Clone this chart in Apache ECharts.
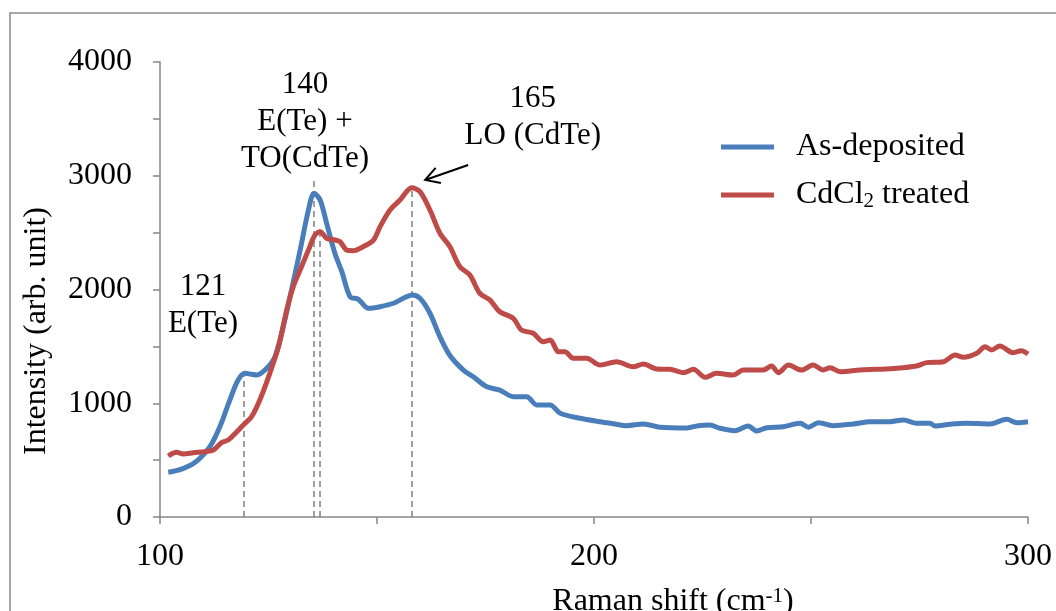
<!DOCTYPE html>
<html><head><meta charset="utf-8">
<script src="https://cdn.jsdelivr.net/npm/echarts@6/dist/echarts.min.js"></script>
<style>html,body{margin:0;padding:0;background:#fff}#c{width:1056px;height:611px}</style>
</head><body><div id="c"></div>
<script>
// ---- data ----
const shiftBlue = [101.9,103.5,105.4,107.5,109.2,111.5,113.8,116.1,118.0,119.6,121.0,122.3,124.6,126.5,128.4,130.3,132.3,134.2,135.5,136.9,138.4,140.3,141.9,143.8,145.7,148.0,150.7,153.8,156.1,158.1,159.9,162.2,164.5,166.8,169.9,172.2,175.3,178.3,181.4,184.5,186.8,189.9,192.2,196.8,201.4,204.5,207.5,211.4,215.2,221.5,224.0,226.7,229.0,232.5,235.5,237.5,239.8,243.6,247.5,249.4,251.7,255.1,259.8,263.6,268.2,271.3,274.3,277.4,278.6,282.0,285.9,291.2,295.1,297.4,300.0];
const asDeposited = [393,405,428,465,516,618,794,1029,1204,1263,1255,1248,1307,1409,1673,1996,2347,2699,2846,2787,2582,2318,2157,1937,1914,1835,1849,1879,1923,1952,1923,1791,1585,1420,1292,1233,1145,1116,1058,1058,985,985,912,868,838,820,803,818,789,783,803,809,780,759,800,756,785,794,824,789,829,803,818,838,838,853,824,824,800,815,824,818,859,829,838];
const shiftRed = [101.9,103.8,105.4,107.7,110.3,112.3,114.2,115.7,117.7,119.2,121.1,123.0,125.3,127.3,129.2,130.7,132.6,134.2,135.7,136.9,138.4,140.3,141.5,143.0,144.5,146.8,149.2,150.7,153.0,155.3,158.0,159.9,162.2,164.5,166.8,169.1,171.4,173.7,176.0,178.3,181.4,183.3,186.0,188.3,189.9,191.8,193.3,195.2,198.3,201.4,205.2,209.0,211.4,214.4,217.5,220.6,222.9,225.6,228.2,232.1,234.4,239.0,240.9,242.5,244.8,247.8,250.5,252.8,254.4,256.7,261.3,265.1,269.7,274.3,276.6,280.5,283.2,285.1,288.2,290.1,291.6,293.5,296.6,298.5,300.0];
const cdcl2Treated = [536,569,554,565,574,589,654,677,750,809,882,1029,1263,1497,1820,2025,2200,2347,2479,2508,2450,2435,2420,2347,2341,2376,2435,2552,2699,2787,2895,2860,2699,2494,2376,2200,2127,1966,1908,1805,1746,1644,1615,1541,1556,1453,1453,1395,1395,1336,1365,1321,1345,1301,1298,1269,1298,1228,1263,1248,1292,1292,1327,1269,1336,1292,1336,1292,1313,1277,1292,1298,1307,1327,1357,1365,1424,1404,1439,1497,1468,1503,1444,1462,1433];
const seriesNames = ['As-deposited', 'CdCl2 treated'];
const xLabelTicks = [100, 200, 300];
const yLabelTicks = [0, 1000, 2000, 3000, 4000];
// peak guide lines: position (cm-1) and top intensity
const peakX = [119.35, 135.5, 136.9, 158.1];
const peakTop = [1266, 2960, 2505, 2892];
// peak annotations: data position and text
const annotX = [109.9, 133.4, 185.9];
const annotY = [1860, 3470, 3515];
const annotText = ['121\nE(Te)', '140\nE(Te) +\nTO(CdTe)', '165\nLO (CdTe)'];
// arrow from label to LO peak (data coords)
const arrowFrom = [171.0, 3094];
const arrowTo = [161.1, 2963];

const FONT = "'Liberation Serif','Times New Roman',serif";
const AX = '#868686';
const BLUE = '#4a7ebb', RED = '#be4b48';
const zip = (a, b) => a.map((v, i) => [v, b[i]]);

const chart = echarts.init(document.getElementById('c'), null, {renderer: 'canvas'});
const option = {
  animation: false,
  backgroundColor: '#ffffff',
  grid: {left: 160, right: 28, top: 62, bottom: 94, containLabel: false},
  xAxis: {
    type: 'value', min: 100, max: 300, interval: 50,
    axisLine: {lineStyle: {color: AX, width: 1.5}},
    axisTick: {show: true, length: 7, lineStyle: {color: AX, width: 1.5}},
    axisLabel: {margin: 24, fontFamily: FONT, fontSize: 32, color: '#000',
      formatter: v => xLabelTicks.includes(v) ? String(v) : ''},
    splitLine: {show: false}
  },
  yAxis: {
    type: 'value', min: 0, max: 4000, interval: 500,
    axisLine: {show: true, lineStyle: {color: AX, width: 1.5}},
    axisTick: {show: true, length: 7, lineStyle: {color: AX, width: 1.5}},
    axisLabel: {margin: 28, fontFamily: FONT, fontSize: 32, color: '#000',
      formatter: v => yLabelTicks.includes(v) ? String(v) : ''},
    splitLine: {show: false}
  },
  legend: {
    orient: 'vertical', left: 716, top: 125, itemWidth: 53, itemHeight: 5, itemGap: 14,
    icon: 'rect',
    textStyle: {fontFamily: FONT, fontSize: 32, color: '#000', lineHeight: 34, padding: [0, 0, 0, 17],
      rich: {sub: {fontFamily: FONT, fontSize: 21, color: '#000', verticalAlign: 'bottom', lineHeight: 34}}},
    formatter: n => n === 'CdCl2 treated' ? 'CdCl{sub|2} treated' : n,
    data: seriesNames
  },
  series: [
    {name: seriesNames[0], type: 'line', data: zip(shiftBlue, asDeposited), showSymbol: false, symbol: 'none',
      smooth: 0.3, lineStyle: {color: BLUE, width: 5}, itemStyle: {color: BLUE}, z: 3,
      markLine: {silent: true, symbol: ['none', 'none'], label: {show: false}, z: 1,
        lineStyle: {color: '#7f7f7f', type: [6, 4], width: 1.5},
        data: peakX.map((x, i) => [{coord: [x, 0]}, {coord: [x, peakTop[i]]}])}},
    {name: seriesNames[1], type: 'line', data: zip(shiftRed, cdcl2Treated), showSymbol: false, symbol: 'none',
      smooth: 0.3, lineStyle: {color: RED, width: 5}, itemStyle: {color: RED}, z: 4}
  ]
};
chart.setOption(option);

// annotations placed through the chart's own coordinate system
const toPx = p => chart.convertToPixel({gridIndex: 0}, p);
const graphics = [
  {type: 'rect', z: -10, silent: true, shape: {x: 10, y: 13, width: 1200, height: 800},
    style: {fill: 'none', stroke: '#8c8c8c', lineWidth: 1.5}},
  {type: 'text', x: 37, y: 331, rotation: Math.PI / 2, silent: true,
    style: {text: 'Intensity (arb. unit)', fontFamily: FONT, fontSize: 32, fill: '#000',
      align: 'center', verticalAlign: 'middle', textAlign: 'center', textVerticalAlign: 'middle'}},
  {type: 'text', x: 673, y: 602, silent: true,
    style: {text: 'Raman shift (cm{sup|-1})', fontFamily: FONT, fontSize: 32, fill: '#000',
      align: 'center', verticalAlign: 'middle', textAlign: 'center', textVerticalAlign: 'middle',
      rich: {sup: {fontFamily: FONT, fontSize: 21, fill: '#000', verticalAlign: 'top'}}}}
];
annotX.forEach((x, i) => {
  const p = toPx([x, annotY[i]]);
  graphics.push({type: 'text', x: p[0], y: p[1], silent: true,
    style: {text: annotText[i], fontFamily: FONT, fontSize: 31, fill: '#000', lineHeight: 37,
      align: 'center', verticalAlign: 'middle', textAlign: 'center', textVerticalAlign: 'middle'}});
});
const a0 = toPx(arrowFrom), a1 = toPx(arrowTo);
const dx = a0[0] - a1[0], dy = a0[1] - a1[1], L = Math.hypot(dx, dy);
const ux = dx / L, uy = dy / L, ang = 30 * Math.PI / 180, wl = 16;
const rot = (c, s) => [a1[0] + wl * (ux * c - uy * s), a1[1] + wl * (ux * s + uy * c)];
const w1 = rot(Math.cos(ang), Math.sin(ang)), w2 = rot(Math.cos(-ang), Math.sin(-ang));
graphics.push({type: 'line', silent: true, shape: {x1: a0[0], y1: a0[1], x2: a1[0], y2: a1[1]},
  style: {stroke: '#000', lineWidth: 2}});
graphics.push({type: 'polyline', silent: true, shape: {points: [w1, a1, w2]},
  style: {stroke: '#000', lineWidth: 2, fill: 'none'}});
chart.setOption({graphic: graphics});
</script></body></html>
